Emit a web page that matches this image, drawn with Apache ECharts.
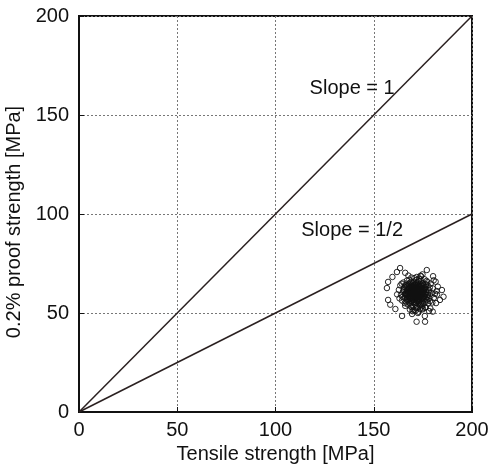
<!DOCTYPE html>
<html>
<head>
<meta charset="utf-8">
<script src="https://cdn.jsdelivr.net/npm/echarts@6/dist/echarts.min.js"></script>
<style>
  html, body { margin: 0; padding: 0; background: #fff; }
  #chart { width: 490px; height: 470px; }
</style>
</head>
<body>
<div id="chart"></div>
<script>
// axis ticks
var ticks = [0, 50, 100, 150, 200];

// reference lines: y = slope * x
var slopeOne = [[0, 0], [200, 200]];
var slopeHalf = [[0, 0], [200, 100]];

// line labels [x, y, text]
var lineLabels = [[139, 163.4, 'Slope = 1'], [139, 91.5, 'Slope = 1/2']];

// measured specimens [tensile, proof]
var specimens = [
  [171.2,60.5],[168.1,58.3],[173.4,62.1],[174.8,57.9],[169.7,63.4],[172.3,55.8],[166.9,61.2],[175.6,60.9],[170.4,59.1],[167.8,64.7],
  [176.5,63.2],[165.7,57.6],[172.9,66.1],[169.1,54.9],[174.2,58.8],[171.8,62.9],[168.6,60.2],[177.1,56.7],[170.9,57.3],[166.2,63.8],
  [173.7,64.5],[169.3,61.7],[172.1,59.4],[175.3,54.6],[167.5,56.4],[178.2,61.5],[170.2,65.8],[164.9,60.8],[173.1,56.2],[171.5,63.9],
  [169.9,58.7],[174.5,61.3],[168.3,62.6],[172.6,57.1],[176.1,59.6],[167.1,59.9],[170.7,61.9],[173.9,59.2],[171.1,56.9],[169.5,60.9],
  [175.9,62.7],[166.6,58.9],[172.4,64.2],[168.9,57.4],[174.1,63.6],[170.5,55.6],[177.6,59.1],[165.4,62.3],[173.3,60.4],[171.9,58.2],
  [168.4,65.3],[175.1,57.3],[169.8,59.8],[172.7,61.1],[166.4,55.7],[174.9,65.1],[170.1,62.4],[178.8,58.4],[167.3,61.9],[173.5,53.9],
  [171.4,59.7],[169.2,63.1],[176.8,61.8],[168.7,56.1],[172.2,62.5],[174.4,55.4],[170.6,58.1],[165.9,59.3],[177.4,64.1],[171.7,66.7],
  [167.9,60.6],[173.8,57.7],[169.4,57.9],[175.4,63.9],[170.3,60.1],[172.8,54.7],[166.7,62.9],[174.6,60.1],[168.2,55.2],[176.3,57.8],
  [171.3,64.6],[169.6,62.0],[173.2,61.6],[167.6,58.6],[175.8,59.9],[170.8,63.7],[172.5,58.5],[164.6,58.1],[178.5,62.8],[169.0,59.5],
  [174.3,62.9],[171.6,57.5],[167.2,63.4],[173.6,58.9],[170.0,56.6],[176.7,60.6],[168.8,61.4],[172.0,63.3],[175.2,56.4],[166.1,60.1],
  [171.0,61.8],[169.1,65.9],[174.7,59.5],[172.3,60.7],[167.7,57.1],[177.9,60.3],[170.4,64.1],[173.0,55.3],[168.5,59.6],[175.7,61.6],
  [171.9,61.4],[166.8,56.8],[174.0,66.3],[169.7,56.2],[172.6,63.0],[176.4,55.9],[170.2,58.4],[165.2,61.5],[173.4,59.8],[168.0,62.9],
  [179.3,60.0],[171.1,54.3],[169.9,61.3],[175.0,64.8],[167.4,60.3],[172.9,57.9],[170.9,62.7],[174.2,56.9],[166.5,64.3],[173.7,61.9],
  [171.4,58.9],[168.3,57.8],[176.0,62.3],[169.4,64.2],[172.1,56.1],[177.2,58.0],[170.6,60.6],[165.6,63.1],[174.8,60.7],[171.7,55.1],
  [168.9,63.6],[173.3,63.4],[167.0,58.0],[175.5,58.6],[170.0,59.4],[172.4,65.4],[169.3,55.9],[176.6,64.4],[171.2,57.8],[173.9,54.8],
  [166.3,59.6],[178.0,57.2],[170.3,63.0],[168.6,61.0],[174.5,64.0],[172.7,59.0],[169.0,57.0],[175.3,61.2],[167.8,62.3],[171.5,65.0],
  [180.1,62.4],[163.9,59.2],[173.1,67.3],[169.5,52.8],[177.7,54.9],[165.1,65.4],[176.9,66.2],[164.4,56.3],[172.0,52.9],[170.7,67.6],
  [179.0,64.9],[166.0,53.6],[174.6,53.4],[168.1,66.8],[181.2,59.7],[162.8,61.7],[175.9,67.0],[167.2,54.4],[171.9,68.2],[178.6,56.0],
  [163.5,63.9],[180.6,57.7],[169.2,67.9],[173.5,51.9],[165.8,55.0],[177.3,65.6],[161.9,59.4],[182.0,61.1],[170.1,53.1],[166.9,66.4],
  [179.8,55.3],[168.4,51.7],[174.1,68.5],[182.6,63.3],[164.2,64.8],[176.2,52.6],[171.3,51.2],[167.6,68.9],[181.5,65.8],[163.1,57.4],
  [171.0,60.0],[170.5,61.5],[172.2,61.0],[169.8,60.4],[173.0,60.9],[171.6,59.3],[170.8,58.8],[172.8,62.2],[169.3,59.1],[174.0,61.4],
  [171.3,62.2],[170.1,57.7],[173.6,58.3],[168.7,63.0],[172.5,56.6],[175.1,62.0],[169.9,64.9],[171.8,60.0],[167.3,59.4],[174.4,57.5],
  [170.9,59.9],[172.0,58.0],[169.6,61.8],[173.2,63.8],[171.4,61.1],[168.2,60.7],[175.6,58.1],[170.4,62.9],[172.7,60.3],[169.1,58.0],
  [171.5,52.5],[174.8,51.8],[168.9,53.2],[176.5,53.0],[172.9,50.6],[170.3,51.5],[178.1,51.0],[173.8,68.8],[175.0,52.3],[169.7,50.9],
  [163.4,72.7],[161.8,70.7],[157.3,65.7],[156.7,62.6],[177.0,71.7],[184.7,61.6],[183.7,56.6],[181.7,55.0],[164.4,48.5],[172.5,50.0],
  [176.0,48.5],[157.3,56.6],[180.5,66.5],[159.5,68.2],[166.0,70.3],[174.8,69.5],[182.2,59.3],[169.5,49.5],[178.8,52.3],[161.0,52.0],
  [180.2,68.6],[158.4,54.2],[171.8,45.6],[176.1,45.6],[180.0,50.7],[185.5,58.2]
];

var chart = echarts.init(document.getElementById('chart'));

var font = 'Liberation Sans';

function axis(name, gap, rotate, labelMargin, namePad) {
  return {
    type: 'value', min: 0, max: 200, interval: 50,
    name: name, nameLocation: 'middle', nameGap: gap, nameRotate: rotate,
    nameTextStyle: { fontFamily: font, fontSize: 20, color: '#111', padding: namePad },
    axisLine: { show: true, lineStyle: { color: '#111', width: 2 } },
    axisTick: { show: true, inside: true, length: 5, lineStyle: { color: '#111', width: 1 } },
    axisLabel: {
      fontFamily: font, fontSize: 20, color: '#111', margin: labelMargin,
      formatter: function (v) { return ticks.indexOf(v) >= 0 ? String(v) : ''; }
    },
    splitLine: { show: true, lineStyle: { color: '#777', width: 1, type: [2, 2] } }
  };
}

chart.setOption({
  animation: false,
  grid: {
    left: 79, right: 18, top: 16, bottom: 58, outerBoundsMode: 'none',
    show: true, borderColor: '#111', borderWidth: 2
  },
  xAxis: axis('Tensile strength [MPa]', 29, 0, 8, 0),
  yAxis: axis('0.2% proof strength [MPa]', 49, 90, 10, [0, 16, 0, 0]),
  series: [
    {
      type: 'line', data: slopeOne, symbol: 'none',
      lineStyle: { color: '#2a2020', width: 1.5 }
    },
    {
      type: 'line', data: slopeHalf, symbol: 'none',
      lineStyle: { color: '#2a2020', width: 1.5 }
    },
    {
      type: 'scatter', data: specimens, symbol: 'circle', symbolSize: 5.5,
      itemStyle: { color: 'rgba(255,255,255,0)', borderColor: '#111', borderWidth: 0.9, opacity: 1 }
    },
    {
      type: 'scatter', data: lineLabels, symbolSize: 0,
      itemStyle: { color: '#111', opacity: 1 },
      label: {
        show: true, position: 'inside', color: '#111', opacity: 1,
        textBorderWidth: 0,
        fontFamily: font, fontSize: 20,
        formatter: function (p) { return p.data[2]; }
      }
    }
  ]
});
</script>
</body>
</html>
